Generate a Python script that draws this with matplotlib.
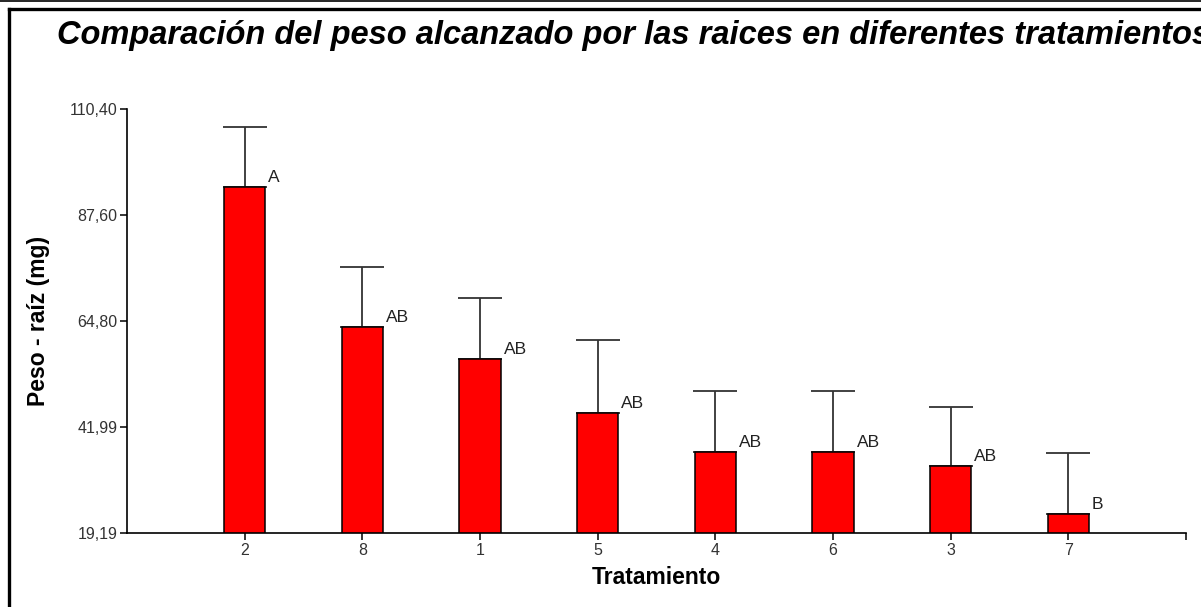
import matplotlib.pyplot as plt
from matplotlib.lines import Line2D
import numpy as np

plt.rcParams["font.family"] = ["Liberation Sans", "DejaVu Sans"]

# Treatments in plotted order (sorted by mean root weight)
tratamientos = ["2", "8", "1", "5", "4", "6", "3", "7"]
peso_medio = [93.6, 63.5, 56.6, 45.0, 36.6, 36.6, 33.6, 23.3]
peso_error = [12.9, 12.9, 13.1, 15.7, 13.1, 13.1, 12.7, 13.1]
letras = ["A", "AB", "AB", "AB", "AB", "AB", "AB", "B"]
y_ticks = [19.19, 41.99, 64.80, 87.60, 110.40]

fig = plt.figure(figsize=(12.01, 6.07), dpi=100)
fig.patch.set_facecolor("white")

# outer frame lines
fig.add_artist(Line2D([0, 1], [0.9985, 0.9985], transform=fig.transFigure, color="black", lw=1.2))
fig.add_artist(Line2D([0.0075, 1.0], [0.9855, 0.9855], transform=fig.transFigure, color="black", lw=2.4))
fig.add_artist(Line2D([0.0075, 0.0075], [0.0, 0.9855], transform=fig.transFigure, color="black", lw=2.4))

ax = fig.add_axes([0.1057, 0.1219, 0.8818, 0.6985])
x = np.arange(1, len(tratamientos) + 1)
width = 0.35

ax.bar(x, peso_medio, width=width, bottom=0, color="#ff0000", edgecolor="black", linewidth=1.1, zorder=2)
ax.errorbar(x, peso_medio, yerr=[np.zeros(len(x)), peso_error], fmt="none", ecolor="#333333",
            elinewidth=1.3, capsize=15.5, capthick=1.3, zorder=1)

for xi, val, txt in zip(x, peso_medio, letras):
    ax.annotate(txt, xy=(xi + width / 2, val), xytext=(3, 5), textcoords="offset pixels",
                ha="left", va="baseline", fontsize=12.5, color="#222222")

ax.set_xlim(0, 9)
ax.set_ylim(y_ticks[0], y_ticks[-1])
ax.set_xticks(x)
ax.set_xticklabels(tratamientos)
ax.set_xticks([9], minor=True)
ax.set_yticks(y_ticks)
ax.set_yticklabels([f"{v:.2f}".replace(".", ",") for v in y_ticks])
ax.tick_params(axis="both", which="both", direction="out", length=5, width=1.1, color="black",
               labelsize=11.5, labelcolor="#333333", pad=2)

for spine in ("top", "right"):
    ax.spines[spine].set_visible(False)
for spine in ("left", "bottom"):
    ax.spines[spine].set_linewidth(1.2)

ax.set_xlabel("Tratamiento", fontsize=16.5, fontweight="bold", labelpad=6)
ax.set_ylabel("Peso - raíz (mg)", fontsize=16.5, fontweight="bold", labelpad=14)

fig.text(57 / 1201, 0.9275, "Comparación del peso alcanzado por las raices en diferentes tratamientos",
         ha="left", va="baseline", fontsize=23.5, fontweight="bold", fontstyle="italic")

fig.savefig("out.png", dpi=100, facecolor="white")
